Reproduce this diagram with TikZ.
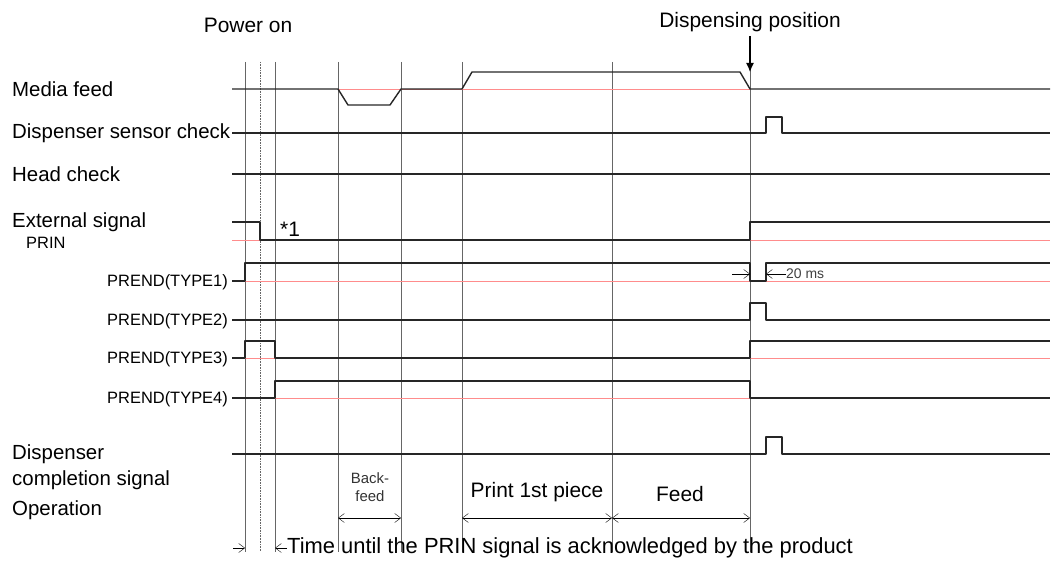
\documentclass[tikz,border=0pt]{standalone}
\usepackage{fontspec}
\usetikzlibrary{arrows.meta}
\setmainfont{Liberation Sans}
\begin{document}
\begin{tikzpicture}[x=1bp,y=-1bp,>={Straight Barb[length=6bp,width=9bp]},line join=bevel,
  sig/.style={line width=1.4bp,black!85},
  grid/.style={black!60,line width=0.6bp},
  ref/.style={red!45,line width=0.6bp},
  lab/.style={anchor=west,inner sep=0pt,font=\fontsize{20.5}{24}\selectfont},
  slab/.style={anchor=east,inner sep=0pt,font=\fontsize{16.5}{19}\selectfont},
  txt/.style={inner sep=0pt,font=\fontsize{21}{24}\selectfont}]
%%
\useasboundingbox (0,0) rectangle (1059,562);
% time marks
\foreach \x in {245,275,338,401,462,612,750}
  \draw[grid] (\x,62) -- (\x,552);
\draw[grid,densely dotted] (260,62) -- (260,552);
% reference levels
\draw[ref] (338,89) -- (750,89);
\draw[ref] (232,240) -- (1050,240);
\draw[ref] (245,281) -- (1050,281);
\draw[ref] (232,358) -- (1050,358);
\draw[ref] (275,398) -- (1050,398);
%
\node[lab] (media) at (12,89) {Media feed};
\node[lab] (dsens) at (12,133) {Dispenser sensor check};
\node[lab] (head) at (12,174) {Head check};
\node[lab] (ext) at (12,222) {External signal};
\node[slab,anchor=west] (prin) at (26,243) {PRIN};
\node[slab] (type1) at (228,282) {PREND(TYPE1)};
\node[slab] (type2) at (228,321) {PREND(TYPE2)};
\node[slab] (type3) at (228,359) {PREND(TYPE3)};
\node[slab] (type4) at (228,399) {PREND(TYPE4)};
\node[lab] (dcomp) at (12,454) {Dispenser};
\node[lab] (dcomp2) at (12,480) {completion signal};
\node[lab] (oper) at (12,510) {Operation};
% waveforms
\draw[sig] (232,89) -- (338,89) -- (348,105) -- (390,105) -- (401,89) -- (462,89) -- (472,72) -- (740,72) -- (750,89) -- (1050,89);
\draw[sig] (232,133) -- (766,133) -- (766,117) -- (782,117) -- (782,133) -- (1050,133);
\draw[sig] (232,174) -- (1050,174);
\draw[sig] (232,222) -- (260,222) -- (260,240) -- (750,240) -- (750,222) -- (1050,222);
\draw[sig] (232,281) -- (245,281) -- (245,263) -- (750,263) -- (750,281) -- (766,281) -- (766,263) -- (1050,263);
\draw[sig] (232,320) -- (750,320) -- (750,303) -- (766,303) -- (766,320) -- (1050,320);
\draw[sig] (232,358) -- (245,358) -- (245,341) -- (275,341) -- (275,358) -- (750,358) -- (750,341) -- (1050,341);
\draw[sig] (232,398) -- (275,398) -- (275,381) -- (750,381) -- (750,398) -- (1050,398);
\draw[sig] (232,454) -- (766,454) -- (766,437) -- (782,437) -- (782,454) -- (1050,454);
% annotations
\node[txt] (power) at (248,25) {Power on};
\node[txt] (dpos) at (750,22) {Dispensing position};
\draw[-{Latex[length=9bp,width=8bp]},line width=1.2bp] (750,36) -- (750,72);
\node[txt,anchor=west] (note) at (280,229) {*1};
\draw[->] (732,274) -- (750,274);
\draw[->] (786,274) -- (766,274);
\node[anchor=west,inner sep=0pt,font=\fontsize{14}{16}\selectfont,black!75] (ms) at (786,274) {20 ms};
\node[inner sep=0pt,align=center,font=\fontsize{15}{18}\selectfont,black!80] (back) at (370,487) {Back-\\feed};
\node[txt] (print) at (537,492) {Print 1st piece};
\node[txt] (feed) at (680,494) {Feed};
\draw[<->] (338,518) -- (401,518);
\draw[<->] (462,518) -- (612,518);
\draw[<->] (612,518) -- (750,518);
\draw[->] (233,548) -- (245,548);
\draw[->] (287,548) -- (275,548);
\node[anchor=west,inner sep=0pt,font=\fontsize{22}{25}\selectfont] (ack) at (287,548) {Time until the PRIN signal is acknowledged by the product};
%
\end{tikzpicture}
\end{document}
